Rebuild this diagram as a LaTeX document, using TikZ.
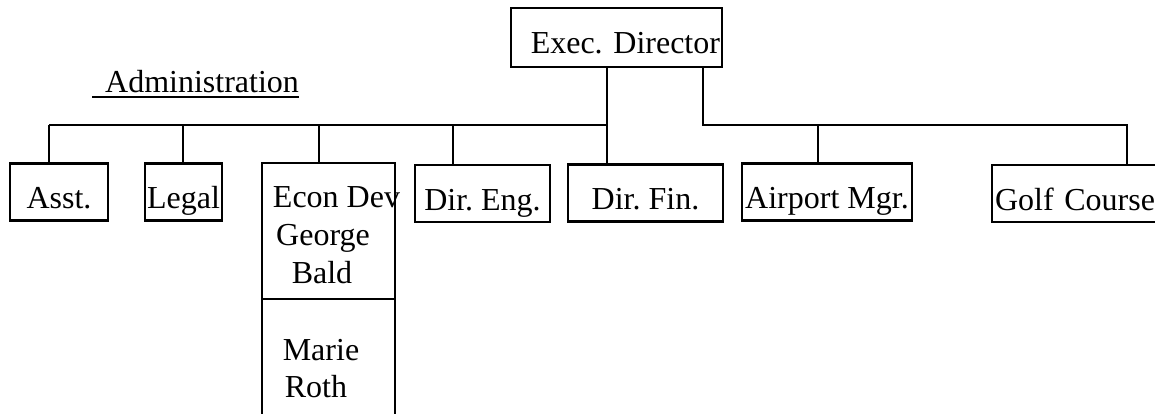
\documentclass[tikz,border=0pt]{standalone}
\usepackage{fontspec}
\setmainfont{Liberation Serif}
\usetikzlibrary{positioning}
\frenchspacing
\tikzset{
  orgbox/.style={draw, line width=2.2pt, outer sep=0pt, inner sep=0pt,
    minimum height=57pt, text height=33pt, text depth=0pt,
    font=\fontsize{32}{38}\selectfont},
  lbl/.style={inner sep=0pt, font=\fontsize{32}{38}\selectfont},
  link/.style={line width=2.2pt}
}
\begin{document}
\begin{tikzpicture}[x=1pt, y=-1pt]
    \useasboundingbox (0,0) rectangle (1155,414);

    % Top box
    \node[orgbox, minimum height=59pt, text width=207pt, inner xsep=2pt, align=right] (exec) at (616.5,37.5) {Exec. Director};

    % Heading
    \node[lbl, anchor=base west] (admin) at (105,93) {Administration};
    \draw[link] ([shift={(-13,4)}]admin.base west) -- ([shift={(0,4)}]admin.base east);

    % Second row
    \node[orgbox, minimum width=98pt] (asst) at (59,192) {Asst.};
    \node[orgbox, minimum width=77pt] (legal) at (183.5,192) {Legal};
    \node[orgbox, minimum width=135pt] (direng) at (482.5,193.5) {Dir. Eng.};
    \node[orgbox, minimum width=155pt] (dirfin) at (645.5,193) {Dir. Fin.};
    \node[orgbox, minimum width=170pt] (airport) at (827,192) {Airport Mgr.};
    \node[orgbox, text width=170pt, inner xsep=3pt, align=left] (golf) at (1080,193.5) {Golf Course};

    % Econ Dev column
    \node[lbl, anchor=base] (econA) at (336.5,207) {Econ Dev};
    \node[lbl, anchor=base] (econB) at (323,245) {George};
    \node[lbl, anchor=base] (econC) at (322,283) {Bald};
    \node[lbl, anchor=base] (econD) at (321,360) {Marie};
    \node[lbl, anchor=base] (econE) at (316,397) {Roth};
    \node[orgbox, minimum width=133pt, minimum height=136pt] (econ) at (328.5,231) {};
    \node[orgbox, minimum width=133pt, minimum height=140pt, below=0pt of econ] (econlow) {};

    % Connectors
    \coordinate (busL) at (49,125);
    \coordinate (busM) at (607,125);
    \coordinate (exR) at (703,125);
    \coordinate (busR) at (1127,125);
    \draw[link] (exec.south -| busM) -- (busM |- dirfin.north);
    \draw[link] (busL) -- (busM);
    \draw[link] (exec.south -| exR) -- (exR) -- (busR) -- (busR |- golf.north);
    \foreach \n/\x in {asst/49, legal/183, econ/319, direng/453, airport/818} {
        \coordinate (d\n) at (\x,125);
        \draw[link] (d\n) -- (d\n |- \n.north);
    }
\end{tikzpicture}
\end{document}
